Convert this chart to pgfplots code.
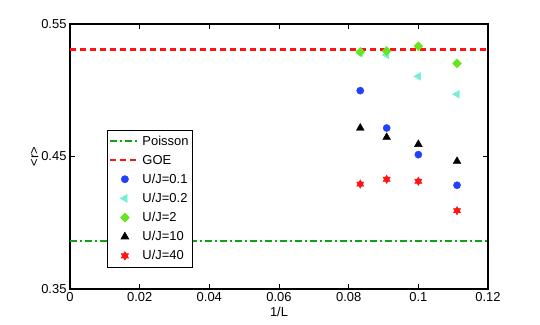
\documentclass[border=0pt]{standalone}
\usepackage{fontspec}
\setmainfont{Liberation Sans}
\usepackage{pgfplots}
\pgfplotsset{compat=1.18}
\usetikzlibrary{calc}

\definecolor{cblue}{RGB}{35,65,250}
\definecolor{caqua}{RGB}{115,240,210}
\definecolor{clime}{RGB}{100,230,30}
\definecolor{cgreen}{RGB}{20,160,20}
\definecolor{cred}{RGB}{255,20,20}

% filled six-pointed star (hexagram)
\pgfdeclareplotmark{hexagram}{%
  \pgfpathmoveto{\pgfqpointpolar{90}{\pgfplotmarksize}}%
  \pgfpathlineto{\pgfqpointpolar{210}{\pgfplotmarksize}}%
  \pgfpathlineto{\pgfqpointpolar{330}{\pgfplotmarksize}}%
  \pgfpathclose
  \pgfpathmoveto{\pgfqpointpolar{270}{\pgfplotmarksize}}%
  \pgfpathlineto{\pgfqpointpolar{30}{\pgfplotmarksize}}%
  \pgfpathlineto{\pgfqpointpolar{150}{\pgfplotmarksize}}%
  \pgfpathclose
  \pgfusepathqfillstroke}

\begin{document}
\begin{tikzpicture}
\begin{axis}[
  scale only axis, width=418bp, height=265bp,
  xmin=0, xmax=0.12, ymin=0.35, ymax=0.55,
  xtick={0,0.02,0.04,0.06,0.08,0.1,0.12},
  xticklabels={0,0.02,0.04,0.06,0.08,0.1,0.12},
  ytick={0.35,0.45,0.55},
  yticklabels={0.35,0.45,0.55},
  scaled ticks=false,
  tick align=inside, major tick length=5bp,
  axis line style={line width=1.5bp},
  tick style={black, line width=1bp},
  font=\fontsize{13}{15}\selectfont,
  tick label style={font=\fontsize{13}{15}\selectfont},
  xlabel={1/L}, ylabel={<r>},
  xlabel style={yshift=1bp},
  ylabel style={yshift=-4bp},
  legend cell align=left,
  legend style={at={(0.0885,0.6)}, anchor=north west, draw=black,
    line width=0.6bp, font=\fontsize{13}{15}\selectfont,
    inner xsep=2bp, inner ysep=3.5bp, row sep=4.3bp},
  legend image code/.code={
    \draw[mark repeat=2,mark phase=2,#1]
      plot coordinates {(0bp,0bp)(14.5bp,0bp)(29bp,0bp)};},
]
\addplot[cgreen, line width=1.6bp, dash pattern=on 7bp off 3bp on 2bp off 3bp]
  coordinates {(0,0.3863)(0.12,0.3863)};
\addlegendentry{Poisson}
\addplot[cred, line width=2.2bp, dash pattern=on 6bp off 4bp]
  coordinates {(0,0.5307)(0.12,0.5307)};
\addlegendentry{GOE}

\addplot[only marks, mark=*, mark size=3.6bp, color=cblue, fill=cblue]
  coordinates {(0.08333,0.4997)(0.09091,0.4715)(0.1,0.4514)(0.11111,0.4283)};
\addlegendentry{U/J=0.1}
\addplot[only marks, mark=triangle*, mark size=4.5bp, color=caqua, fill=caqua,
  mark options={rotate=90}]
  coordinates {(0.08333,0.5280)(0.09091,0.5266)(0.1,0.5105)(0.11111,0.4970)};
\addlegendentry{U/J=0.2}
\addplot[only marks, mark=diamond*, mark size=4.5bp, color=clime, fill=clime,
  mark options={xscale=1.3}]
  coordinates {(0.08333,0.5290)(0.09091,0.5296)(0.1,0.5332)(0.11111,0.5203)};
\addlegendentry{U/J=2}
\addplot[only marks, mark=triangle*, mark size=4.5bp, color=black, fill=black]
  coordinates {(0.08333,0.4715)(0.09091,0.4645)(0.1,0.4592)(0.11111,0.4464)};
\addlegendentry{U/J=10}
\addplot[only marks, mark=hexagram, mark size=4.2bp, color=cred, fill=cred]
  coordinates {(0.08333,0.4292)(0.09091,0.4328)(0.1,0.4313)(0.11111,0.4091)};
\addlegendentry{U/J=40}
\end{axis}
\pgfresetboundingbox
\path ($(current axis.south west)+(-70bp,-36bp)$) rectangle
      ($(current axis.north east)+(52bp,24bp)$);
\end{tikzpicture}
\end{document}
